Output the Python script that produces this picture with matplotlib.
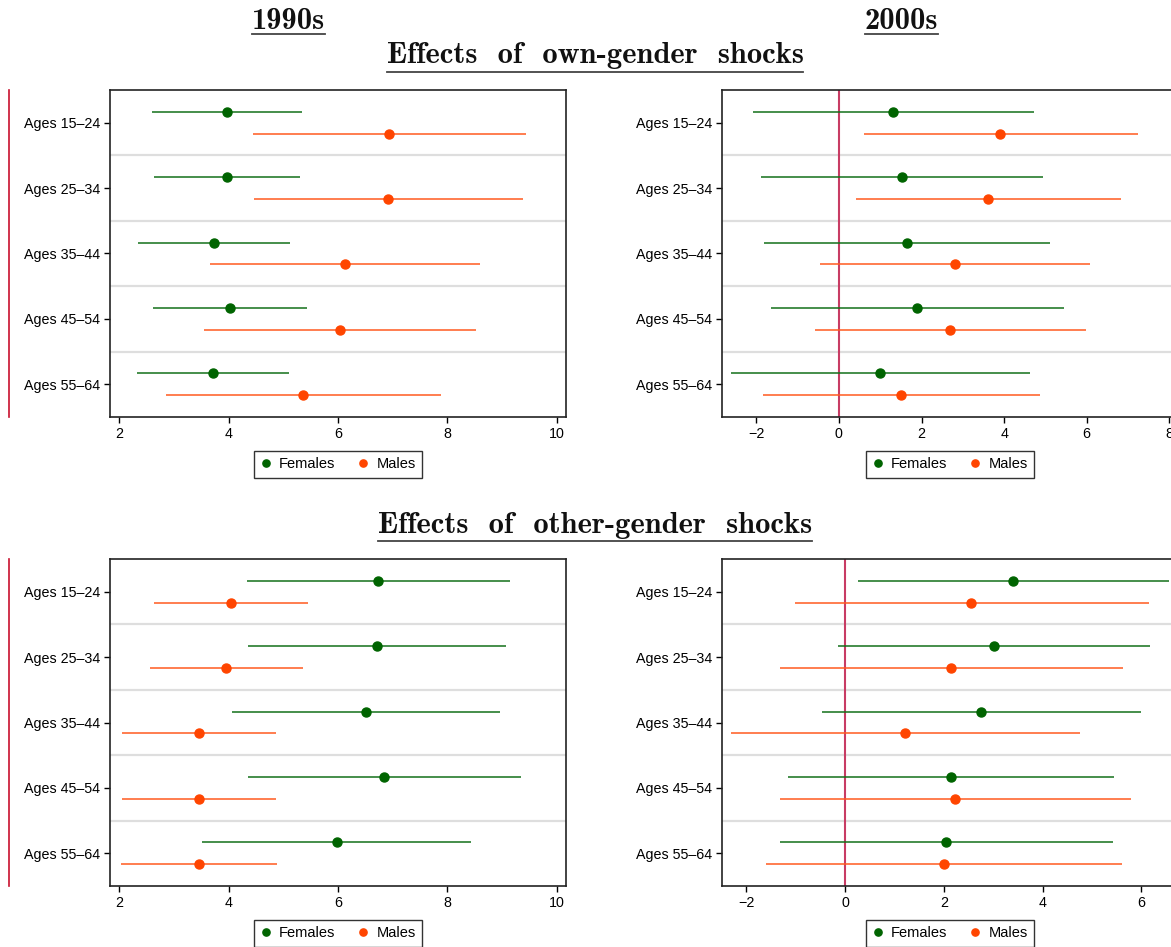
import matplotlib.pyplot as plt
import numpy as np
from matplotlib.lines import Line2D

plt.rcParams['font.family'] = ['Liberation Sans', 'DejaVu Sans']

ages = ['Ages 15–24', 'Ages 25–34', 'Ages 35–44', 'Ages 45–54', 'Ages 55–64']

# Efectos de shocks del mismo género, años 90
own90_f = [3.97, 3.97, 3.73, 4.03, 3.71]
own90_f_lo = [2.60, 2.64, 2.34, 2.62, 2.33]
own90_f_hi = [5.34, 5.30, 5.12, 5.44, 5.11]
own90_m = [6.94, 6.92, 6.12, 6.03, 5.36]
own90_m_lo = [4.45, 4.47, 3.65, 3.55, 2.85]
own90_m_hi = [9.43, 9.38, 8.59, 8.52, 7.89]

# Efectos de shocks del mismo género, años 2000
own00_f = [1.32, 1.53, 1.64, 1.89, 1.00]
own00_f_lo = [-2.08, -1.88, -1.82, -1.65, -2.62]
own00_f_hi = [4.73, 4.94, 5.11, 5.45, 4.63]
own00_m = [3.90, 3.62, 2.81, 2.69, 1.51]
own00_m_lo = [0.60, 0.42, -0.45, -0.59, -1.84]
own00_m_hi = [7.23, 6.84, 6.08, 5.99, 4.86]

# Efectos de shocks del otro género, años 90
oth90_f = [6.73, 6.71, 6.51, 6.85, 5.98]
oth90_f_lo = [4.33, 4.35, 4.07, 4.36, 3.52]
oth90_f_hi = [9.15, 9.07, 8.96, 9.34, 8.44]
oth90_m = [4.04, 3.96, 3.46, 3.46, 3.46]
oth90_m_lo = [2.64, 2.57, 2.05, 2.05, 2.04]
oth90_m_hi = [5.45, 5.36, 4.86, 4.86, 4.88]

# Efectos de shocks del otro género, años 2000
oth00_f = [3.40, 3.01, 2.76, 2.15, 2.05]
oth00_f_lo = [0.26, -0.14, -0.46, -1.15, -1.32]
oth00_f_hi = [6.55, 6.18, 5.99, 5.44, 5.42]
oth00_m = [2.56, 2.15, 1.21, 2.23, 2.00]
oth00_m_lo = [-1.02, -1.32, -2.31, -1.32, -1.60]
oth00_m_hi = [6.15, 5.63, 4.75, 5.79, 5.60]

verde = '#006400'
naranja = '#ff4500'

W, H = 1171, 947
fig = plt.figure(figsize=(W / 100, H / 100), dpi=100)


def panel(rect, f, f_lo, f_hi, m, m_lo, m_hi, xlim, xticks, cero=False, linea_izq=False):
    ax = fig.add_axes([rect[0] / W, 1 - rect[3] / H, (rect[2] - rect[0]) / W, (rect[3] - rect[1]) / H])
    pos = np.arange(len(ages))
    for s in pos[:-1]:
        ax.axhline(s + 0.5, color='#dedede', lw=1.6, zorder=1)
    if cero:
        ax.axvline(0, color='#c83c64', lw=1.5, zorder=2)
    ax.hlines(pos - 0.167, f_lo, f_hi, color='#13701a', lw=1.1, zorder=3)
    ax.hlines(pos + 0.167, m_lo, m_hi, color='#ff5a1f', lw=1.1, zorder=3)
    ax.plot(f, pos - 0.167, 'o', color=verde, ms=6.5, zorder=4, label='Females')
    ax.plot(m, pos + 0.167, 'o', color=naranja, ms=6.5, zorder=4, label='Males')
    ax.set_ylim(len(ages) - 0.5, -0.5)
    ax.set_xlim(*xlim)
    ax.set_xticks(xticks)
    ax.set_yticks(pos, ages)
    ax.tick_params(labelsize=10.3, length=4, width=1, pad=3)
    for sp in ax.spines.values():
        sp.set_linewidth(1.2)
        sp.set_color('#222222')
    leg = ax.legend(loc='upper center', bbox_to_anchor=(0.5, -0.103), ncol=2, fontsize=10.5,
                    frameon=True, fancybox=False, edgecolor='black', markerscale=0.8,
                    handlelength=0.8, handletextpad=0.5, columnspacing=1.5,
                    borderpad=0.45, borderaxespad=0)
    leg.get_frame().set_linewidth(1.0)
    if linea_izq:
        ax.plot([-0.2215, -0.2215], [0, 1], transform=ax.transAxes, color='#c8102e',
                lw=1.2, clip_on=False)
    return ax


panel((110, 90, 566, 417), own90_f, own90_f_lo, own90_f_hi, own90_m, own90_m_lo, own90_m_hi,
      (1.83, 10.17), [2, 4, 6, 8, 10], linea_izq=True)
panel((722, 90, 1178, 417), own00_f, own00_f_lo, own00_f_hi, own00_m, own00_m_lo, own00_m_hi,
      (-2.83, 8.21), [-2, 0, 2, 4, 6, 8], cero=True)
panel((110, 559, 566, 886), oth90_f, oth90_f_lo, oth90_f_hi, oth90_m, oth90_m_lo, oth90_m_hi,
      (1.83, 10.17), [2, 4, 6, 8, 10], linea_izq=True)
panel((722, 559, 1178, 886), oth00_f, oth00_f_lo, oth00_f_hi, oth00_m, oth00_m_lo, oth00_m_hi,
      (-2.49, 6.74), [-2, 0, 2, 4, 6], cero=True)

# Títulos subrayados
titulos = [('1990s', 288.5, 29, 34), ('2000s', 901.5, 29, 34),
           ('Effects  of  own-gender  shocks', 595, 63, 72),
           ('Effects  of  other-gender  shocks', 595, 533, 541)]
textos = []
for txt, x, yb, yl in titulos:
    t = fig.text(x / W, 1 - yb / H, txt, ha='center', va='baseline', fontsize=22,
                 family='cmb10', color='#111111')
    textos.append((t, yl))

fig.canvas.draw()
r = fig.canvas.get_renderer()
for t, yl in textos:
    bb = t.get_window_extent(r)
    fig.add_artist(Line2D([bb.x0 / W, bb.x1 / W], [1 - yl / H, 1 - yl / H],
                          transform=fig.transFigure, color='#444444', lw=1.3))

fig.savefig('out.png', dpi=100)
